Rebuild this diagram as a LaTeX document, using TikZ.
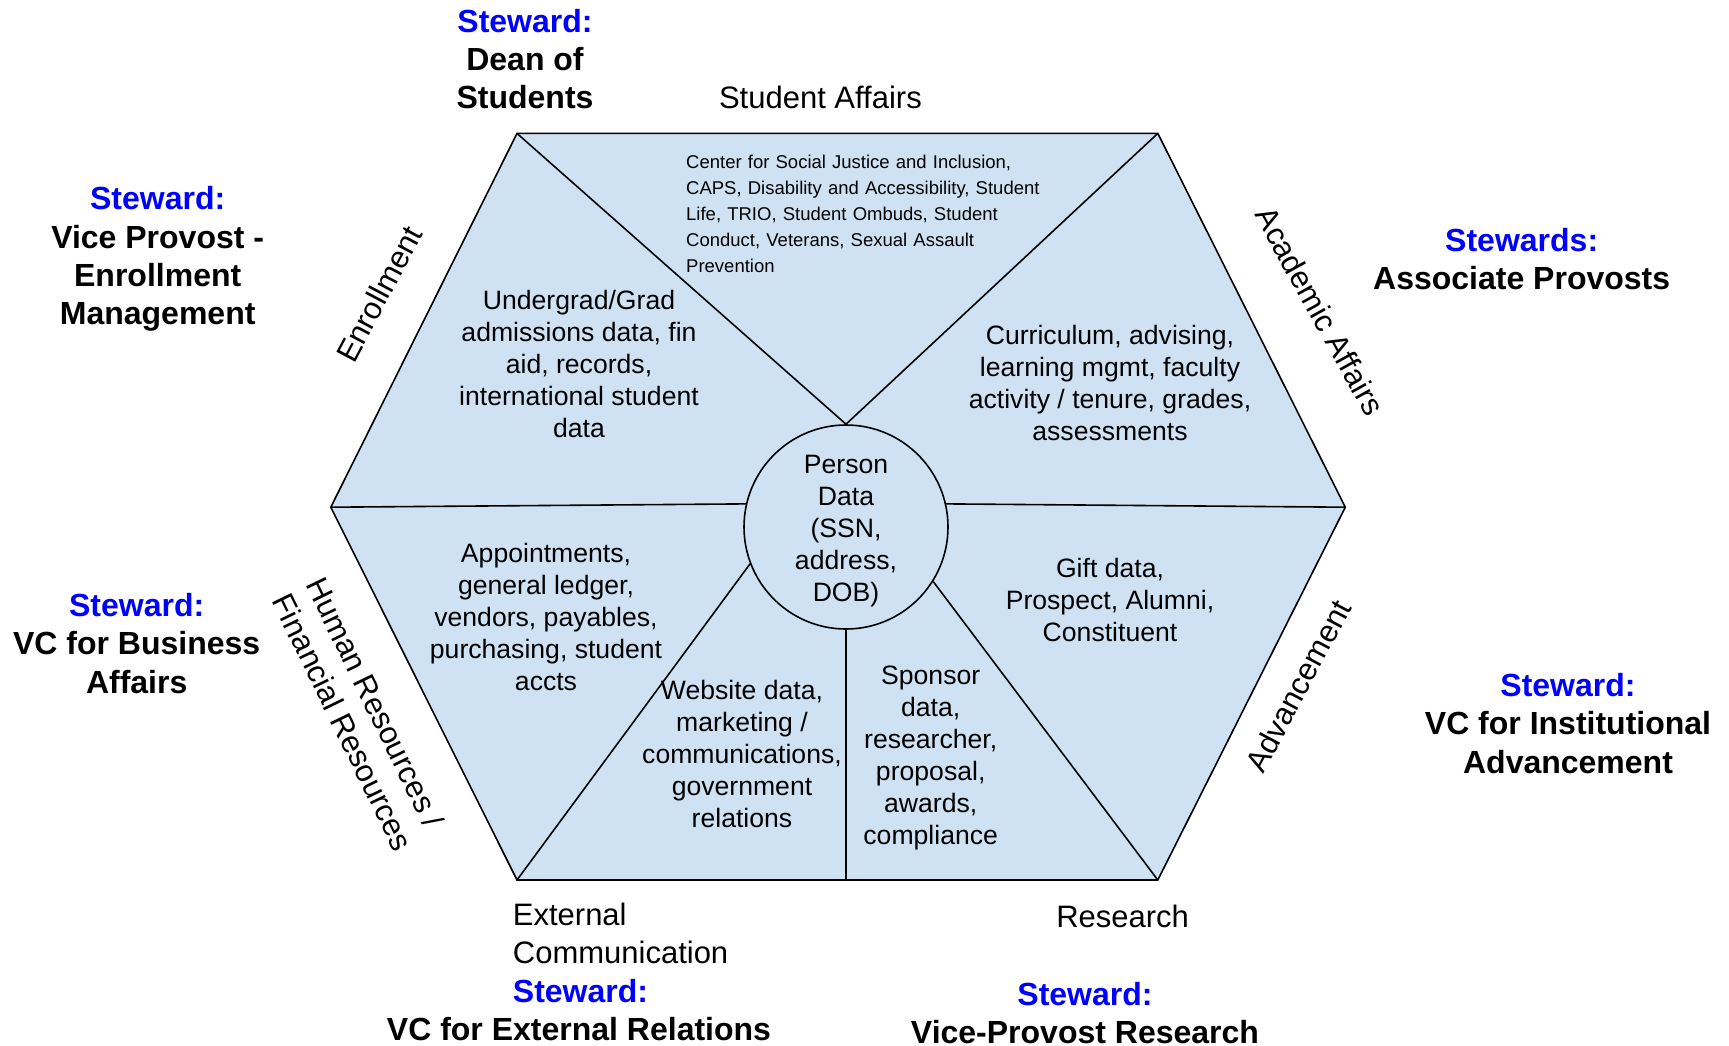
\documentclass[tikz,border=0pt]{standalone}
\usepackage{fontspec}
\setmainfont{Liberation Sans}
\definecolor{hexfill}{HTML}{CFE2F3}
\definecolor{stblue}{HTML}{0000FF}
\tikzset{
  steward/.style={font=\fontsize{32}{38.4}\selectfont\bfseries, align=center, inner sep=0pt},
  catlabel/.style={font=\fontsize{31}{37.5}\selectfont, inner sep=0pt},
  bodytext/.style={font=\fontsize{26.6}{32}\selectfont, align=center, inner sep=0pt},
  smalltext/.style={font=\fontsize{18.5}{25.9}\selectfont, align=left, inner sep=0pt, text width=370pt},
  hexline/.style={line width=1.6pt, black},
}
\newcommand{\stw}[1]{\textcolor{stblue}{#1}}
\begin{document}
\begin{tikzpicture}[x=1pt,y=-1pt]
\useasboundingbox (0,0) rectangle (1729,1045);
% hexagon vertices
\coordinate (v1) at (517,133.4);
\coordinate (v2) at (1157.8,133.4);
\coordinate (v3) at (1345.3,507.2);
\coordinate (v4) at (1157.8,880);
\coordinate (v5) at (517,880);
\coordinate (v6) at (330.8,507.2);
\coordinate (vb) at (846,880);
\fill[hexfill] (v1) -- (v2) -- (v3) -- (v4) -- (v5) -- (v6) -- cycle;
% center circle
\node[circle, draw, hexline, fill=hexfill, minimum size=204pt, inner sep=0pt] (pd) at (846,527) {};
% spokes
\draw[hexline] (pd.north) -- (v1);
\draw[hexline] (pd.north) -- (v2);
\draw[hexline] (pd.13) -- (v3);
\draw[hexline] (pd.-32) -- (v4);
\draw[hexline] (pd.south) -- (vb);
\draw[hexline] (pd.201) -- (v5);
\draw[hexline] (pd.167) -- (v6);
\draw[hexline, line join=miter] (v1) -- (v2) -- (v3) -- (v4) -- (v5) -- (v6) -- cycle;
\node[bodytext] (pdt) at (846,531) {Person\\Data\\(SSN,\\address,\\DOB)};

% wedge contents
\node[smalltext, anchor=west] (sa) at (686,214) {Center for Social Justice and Inclusion,\\CAPS, Disability and Accessibility, Student\\Life, TRIO, Student Ombuds, Student\\Conduct, Veterans, Sexual Assault\\Prevention};
\node[bodytext] (en) at (579,364) {Undergrad/Grad\\admissions data, fin\\aid, records,\\international student\\data};
\node[bodytext] (ac) at (1110,383.2) {Curriculum, advising,\\learning mgmt, faculty\\activity / tenure, grades,\\assessments};
\node[bodytext] (ad) at (1110,599.9) {Gift data,\\Prospect, Alumni,\\Constituent};
\node[bodytext] (hr) at (546,616.5) {Appointments,\\general ledger,\\vendors, payables,\\purchasing, student\\accts};
\node[bodytext] (ex) at (742,754.3) {Website data,\\marketing /\\communications,\\government\\relations};
\node[bodytext] (re) at (930.7,758) {Sponsor\\data,\\researcher,\\proposal,\\awards,\\compliance};

% category labels
\node[catlabel] (lsa) at (820.4,97) {Student Affairs};
\node[catlabel, rotate=62] (len) at (379,294) {Enrollment};
\node[catlabel, rotate=-61] (lac) at (1320,311) {Academic Affairs};
\node[catlabel, rotate=62] (lad) at (1298,686) {Advancement};
\node[catlabel, rotate=-64, align=left] (lhr) at (360,714) {Human Resources /\\Financial Resources};
\node[catlabel, align=left, anchor=north west] (lex) at (512.7,903) {External\\Communication};
\node[catlabel] (lre) at (1122.6,916.3) {Research};

% stewards
\node[steward] (s1) at (525,59) {\stw{Steward:}\\Dean of\\Students};
\node[steward] (s2) at (157.7,259) {\stw{Steward:}\\Vice Provost -\\Enrollment\\Management};
\node[steward] (s3) at (1521.7,259.2) {\stw{Stewards:}\\Associate Provosts};
\node[steward] (s4) at (136.7,643.5) {\stw{Steward:}\\VC for Business\\Affairs};
\node[steward] (s5) at (1568,723.4) {\stw{Steward:}\\VC for Institutional\\Advancement};
\node[steward, anchor=west] (s6a) at (512.7,991.3) {\stw{Steward:}};
\node[steward] (s6b) at (579,1028.8) {VC for External Relations};
\node[steward] (s7) at (1085,1012.8) {\stw{Steward:}\\Vice-Provost Research};
\end{tikzpicture}
\end{document}
